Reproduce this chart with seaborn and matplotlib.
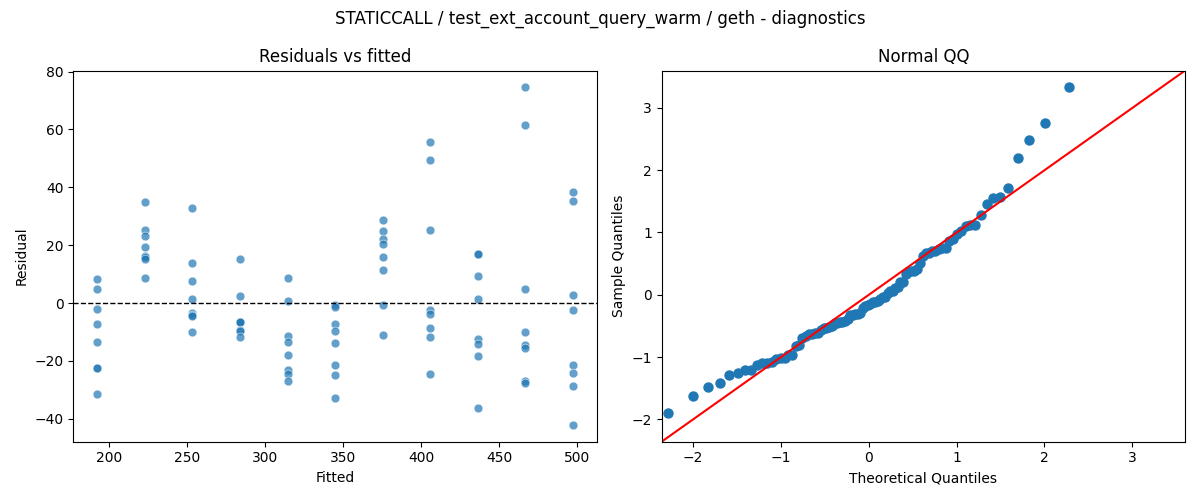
import numpy as np
import pandas as pd
import matplotlib
matplotlib.use("Agg")
import matplotlib.pyplot as plt
import seaborn as sns
from statistics import NormalDist

# fitted value of each group (x positions in the residual plot)
fitted_levels = [192.3, 222.8, 253.3, 283.8, 314.3, 344.8, 375.3, 405.8, 436.3, 466.8, 497.3]

# residuals, one list per fitted level
res_192 = [8.4, 4.8, -2.1, -7.2, -13.4, -22.4, -22.6, -31.6]
res_223 = [34.8, 25.2, 23.1, 19.3, 16.4, 16.0, 15.2, 8.6]
res_253 = [32.8, 13.9, 7.7, 1.5, -3.3, -4.0, -4.6, -10.0]
res_284 = [15.2, 2.5, -6.4, -6.6, -6.7, -9.4, -9.7, -11.7]
res_314 = [8.6, 0.8, -11.4, -13.4, -17.9, -23.0, -24.5, -26.8]
res_345 = [-0.8, -1.4, -7.2, -9.7, -13.8, -21.4, -25.0, -32.8]
res_375 = [28.6, 24.8, 22.1, 20.3, 15.9, 11.5, -0.7, -10.9]
res_406 = [55.5, 49.3, 25.2, -2.3, -3.7, -8.6, -11.7, -24.5]
res_436 = [17.0, 16.8, 9.3, 1.4, -12.6, -14.1, -18.3, -36.2]
res_467 = [74.5, 61.7, 4.8, -10.0, -14.5, -15.4, -26.8, -27.8]
res_497 = [38.3, 35.2, 2.8, -2.4, -21.4, -24.1, -28.6, -42.1]

groups = [res_192, res_223, res_253, res_284, res_314, res_345,
          res_375, res_406, res_436, res_467, res_497]

fitted = []
resid = []
for f, g in zip(fitted_levels, groups):
    fitted += [f] * len(g)
    resid += g
df = pd.DataFrame({"Fitted": fitted, "Residual": resid})

# Normal QQ: standardized residuals vs normal quantiles (positions i/(n+1))
r = np.sort(np.array(resid))
sample_q = (r - r.mean()) / r.std(ddof=1)
n = len(r)
nd = NormalDist()
theo_q = np.array([nd.inv_cdf(i / (n + 1)) for i in range(1, n + 1)])
qq = pd.DataFrame({"Theoretical Quantiles": theo_q, "Sample Quantiles": sample_q})

fig, axes = plt.subplots(1, 2, figsize=(12, 5), dpi=100)
fig.suptitle("STATICCALL / test_ext_account_query_warm / geth - diagnostics", fontsize=12)

ax = axes[0]
sns.scatterplot(data=df, x="Fitted", y="Residual", ax=ax, alpha=0.7, s=40)
ax.axhline(0, color="black", linestyle="--", linewidth=1)
ax.set_title("Residuals vs fitted")

ax2 = axes[1]
sns.scatterplot(data=qq, x="Theoretical Quantiles", y="Sample Quantiles", ax=ax2,
                color="#1f77b4", s=42, edgecolor="#1f77b4", linewidth=1, alpha=1)
lims = (-2.36, 3.60)
ax2.plot(lims, lims, color="red", linewidth=1.5)
ax2.set_xlim(lims)
ax2.set_ylim(lims)
ax2.set_title("Normal QQ")

fig.tight_layout()
fig.savefig("out.png", dpi=100)
